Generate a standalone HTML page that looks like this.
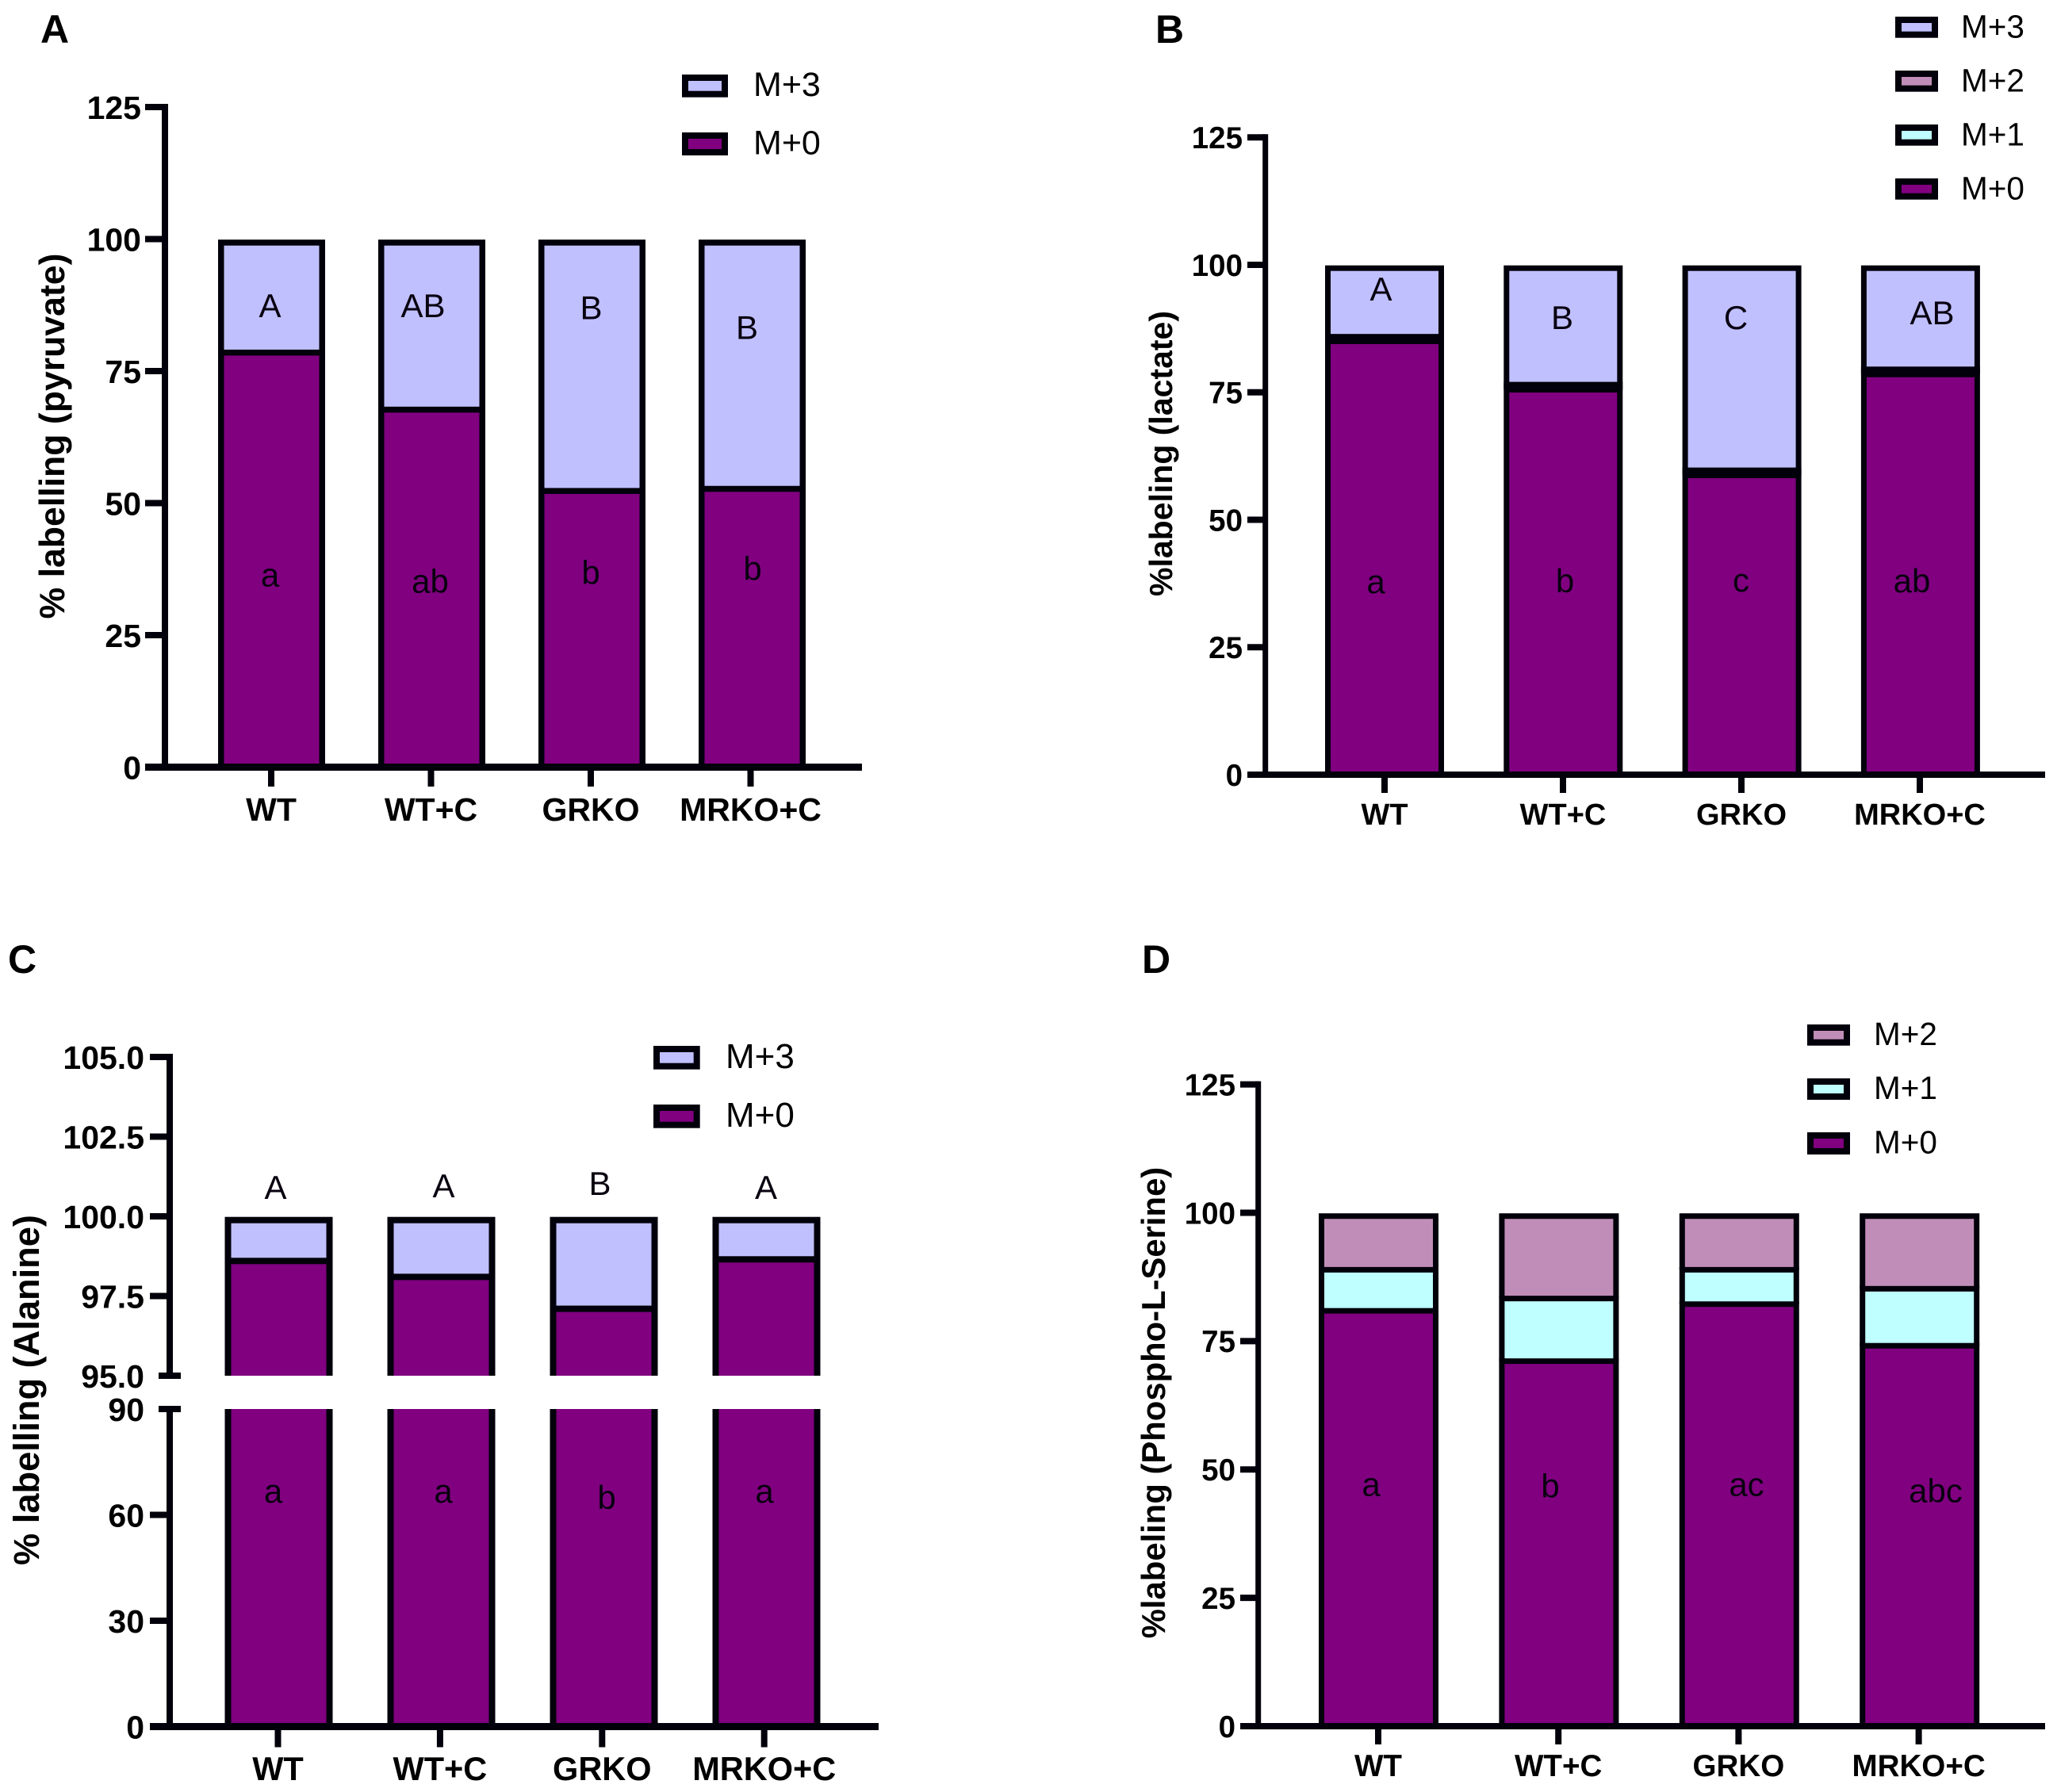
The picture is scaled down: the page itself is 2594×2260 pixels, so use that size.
<!DOCTYPE html>
<html lang="en">
<head>
<meta charset="utf-8">
<title>Isotope labelling stacked bar charts</title>
<style>
html,body{margin:0;padding:0;background:#fff}
svg{display:block}
text{font-family:"Liberation Sans",sans-serif;fill:#000}
.panel{font-weight:bold;font-size:50px}
.ytitle{font-weight:bold;text-anchor:middle}
.ann{text-anchor:middle;font-size:42px;fill:#08000f}
</style>
</head>
<body>
<svg id="figure" xmlns="http://www.w3.org/2000/svg" width="2594" height="2260" viewBox="0 0 2594 2260">
<rect width="2594" height="2260" fill="#fff"/>

<text class="panel" x="51" y="54">A</text>
<text class="panel" x="1457" y="54">B</text>
<text class="panel" x="10" y="1227">C</text>
<text class="panel" x="1440" y="1227">D</text>

<text class="ytitle" font-size="44.6" transform="translate(81,550) rotate(-90)">% labelling (pyruvate)</text>
<text class="ytitle" font-size="41" transform="translate(1478,572) rotate(-90)">%labeling (lactate)</text>
<text class="ytitle" font-size="45.2" transform="translate(49,1753) rotate(-90)">% labelling (Alanine)</text>
<text class="ytitle" font-size="41.8" transform="translate(1469,1769) rotate(-90)">%labeling (Phospho-L-Serine)</text>

<g id="marks"></g>

<g>
<rect x="864" y="98" width="50" height="20.7" fill="#C0C0FF" stroke="#02000a" stroke-width="8"/>
<text x="950" y="121" font-size="43">M+3</text>
<rect x="864" y="171" width="50" height="21" fill="#800080" stroke="#02000a" stroke-width="8"/>
<text x="950" y="194.5" font-size="43">M+0</text>
</g>

<g>
<rect x="2394" y="25" width="46" height="18.7" fill="#C0C0FF" stroke="#02000a" stroke-width="8"/>
<text x="2473" y="47.7" font-size="40.5">M+3</text>
<rect x="2394" y="93" width="46" height="18.7" fill="#C08DB8" stroke="#02000a" stroke-width="8"/>
<text x="2473" y="115.7" font-size="40.5">M+2</text>
<rect x="2394" y="161" width="46" height="18.7" fill="#BFFFFF" stroke="#02000a" stroke-width="8"/>
<text x="2473" y="183.7" font-size="40.5">M+1</text>
<rect x="2394" y="229" width="46" height="18.7" fill="#800080" stroke="#02000a" stroke-width="8"/>
<text x="2473" y="251.7" font-size="40.5">M+0</text>
</g>

<g>
<rect x="828" y="1323" width="50.7" height="21.7" fill="#C0C0FF" stroke="#02000a" stroke-width="8"/>
<text x="915" y="1347" font-size="44">M+3</text>
<rect x="828" y="1397" width="50.7" height="21.7" fill="#800080" stroke="#02000a" stroke-width="8"/>
<text x="915" y="1421" font-size="44">M+0</text>
</g>

<g>
<rect x="2283" y="1296" width="46" height="18.7" fill="#C08DB8" stroke="#02000a" stroke-width="8"/>
<text x="2363" y="1318" font-size="40.5">M+2</text>
<rect x="2283" y="1364" width="46" height="19" fill="#BFFFFF" stroke="#02000a" stroke-width="8"/>
<text x="2363" y="1386" font-size="40.5">M+1</text>
<rect x="2283" y="1432" width="46" height="20" fill="#800080" stroke="#02000a" stroke-width="8"/>
<text x="2363" y="1454.5" font-size="40.5">M+0</text>
</g>

<g id="annotations">
<text class="ann" x="340.5" y="400">A</text>
<text class="ann" x="533.5" y="400">AB</text>
<text class="ann" x="745.5" y="402.5">B</text>
<text class="ann" x="942" y="427.5">B</text>
<text class="ann" x="340.5" y="739.5">a</text>
<text class="ann" x="542.5" y="747.5">ab</text>
<text class="ann" x="745" y="736.5">b</text>
<text class="ann" x="949" y="731.5">b</text>

<text class="ann" x="1741.5" y="379">A</text>
<text class="ann" x="1970" y="415">B</text>
<text class="ann" x="2189" y="415">C</text>
<text class="ann" x="2436.5" y="409">AB</text>
<text class="ann" x="1735" y="748">a</text>
<text class="ann" x="1973.5" y="747">b</text>
<text class="ann" x="2195.5" y="746">c</text>
<text class="ann" x="2411" y="747">ab</text>

<text class="ann" x="347.5" y="1512">A</text>
<text class="ann" x="559.5" y="1510">A</text>
<text class="ann" x="756.5" y="1507">B</text>
<text class="ann" x="966" y="1512">A</text>
<text class="ann" x="344.5" y="1895">a</text>
<text class="ann" x="559" y="1895">a</text>
<text class="ann" x="765" y="1903">b</text>
<text class="ann" x="964" y="1895">a</text>

<text class="ann" x="1729" y="1886.5">a</text>
<text class="ann" x="1955" y="1888.5">b</text>
<text class="ann" x="2202.5" y="1886.5">ac</text>
<text class="ann" x="2441" y="1894.5">abc</text>
</g>
</svg>

<script>
const categories = ["WT", "WT+C", "GRKO", "MRKO+C"];

const pyruvateM0 = [78.5, 67.7, 52.3, 52.7];
const pyruvateM3 = [21.5, 32.3, 47.7, 47.3];

const lactateM0 = [85.0, 75.5, 58.7, 78.5];
const lactateM1 = [0.45, 0.5, 0.5, 0.5];
const lactateM2 = [0.45, 0.5, 0.5, 0.5];
const lactateM3 = [14.1, 23.5, 40.3, 20.5];

const alanineM0 = [98.6, 98.1, 97.1, 98.65];
const alanineM3 = [1.4, 1.9, 2.9, 1.35];

const serineM0 = [80.9, 71.1, 82.2, 74.1];
const serineM1 = [8.0, 12.2, 6.7, 11.1];
const serineM2 = [11.1, 16.7, 11.1, 14.8];

const ticksStandard = [0, 25, 50, 75, 100, 125];
const ticksAlanineLower = [0, 30, 60, 90];
const ticksAlanineUpper = [95, 97.5, 100, 102.5, 105];

const COLOR_M0 = "#800080";
const COLOR_M1 = "#BFFFFF";
const COLOR_M2 = "#C08DB8";
const COLOR_M3 = "#C0C0FF";
const INK = "#02000a";
const SVGNS = "http://www.w3.org/2000/svg";
const root = document.getElementById("marks");

function makeRect(parent, x, y, w, h, fill) {
  const r = document.createElementNS(SVGNS, "rect");
  r.setAttribute("x", x);
  r.setAttribute("y", y);
  r.setAttribute("width", w);
  r.setAttribute("height", Math.max(h, 0));
  r.setAttribute("fill", fill);
  parent.appendChild(r);
  return r;
}

function makeText(parent, x, y, str, size, anchor) {
  const t = document.createElementNS(SVGNS, "text");
  t.setAttribute("x", x);
  t.setAttribute("y", y);
  t.setAttribute("font-size", size);
  t.setAttribute("font-weight", "bold");
  t.setAttribute("text-anchor", anchor);
  t.textContent = str;
  parent.appendChild(t);
  return t;
}

function drawPanel(cfg) {
  const g = document.createElementNS(SVGNS, "g");
  
  
  root.appendChild(g);

  const sections = cfg.sections;
  const SW = cfg.barStroke;
  const yOf = (v, s) => s.y0 - (v - s.lo) * s.scale;

  // stacked bars
  categories.forEach((cat, i) => {
    const cx = cfg.barCenter(i);
    const x0 = cx - cfg.barWidth / 2;
    let base = 0;
    cfg.series.forEach((ser, sIdx) => {
      const top = base + ser.values[i];
      const isTop = sIdx === cfg.series.length - 1;
      sections.forEach(s => {
        const a = Math.max(base, s.lo);
        const b = Math.min(top, s.hi);
        if (b <= a) return;
        const topIsReal = b === top;
        const baseIsReal = a === base && base > 0;
        const yt = yOf(b, s);
        const yb = yOf(a, s);
        const outerTop = topIsReal ? (isTop ? yt + 0.7 : yt - SW / 2) : yt;
        const outer = makeRect(g, x0, outerTop, cfg.barWidth, yb - outerTop, INK);
        
        
        const innerTop = topIsReal ? (isTop ? yt + 0.7 + SW : yt + SW / 2) : yt;
        const innerBottom = baseIsReal ? yb - SW / 2 : yb;
        const fill = makeRect(g, x0 + SW, innerTop, cfg.barWidth - 2 * SW, innerBottom - innerTop, ser.color);
        
        
      });
      base = top;
    });
  });

  // y axis segments, ticks, labels
  sections.forEach(s => {
    const yLo = yOf(s.axisLo, s);
    const yHi = yOf(s.axisHi, s);
    const spine = makeRect(g, cfg.axisX - cfg.axisWidth / 2, yHi - 4, cfg.axisWidth, yLo - yHi + 8, INK);
    
    
    s.ticks.forEach(v => {
      const y = yOf(v, s);
      const isBreak = cfg.breakTicks && cfg.breakTicks.includes(v);
      const left = isBreak ? cfg.axisX - 14 : cfg.tickLeft;
      const right = isBreak ? cfg.axisX + 14 : cfg.axisX;
      const tk = makeRect(g, left, y - 4, right - left, 8, INK);
      
      
      const lab = makeText(g, cfg.labelRight, y + cfg.tickFont * 0.36, s.format(v), cfg.tickFont, "end");
      
      
    });
  });

  // x axis
  const y0 = yOf(0, sections[0]);
  const xAxis = makeRect(g, cfg.tickLeft, y0 - cfg.xAxisWidth / 2, cfg.axisRight - cfg.tickLeft, cfg.xAxisWidth, INK);
  
  
  categories.forEach((cat, i) => {
    const cx = cfg.tickCenter(i);
    const tk = makeRect(g, cx - 4, y0, 8, cfg.xTickLen, INK);
    
    
    const lab = makeText(g, cx, cfg.catBaseline, cat, cfg.catFont, "middle");
    
    
  });
}

const intFmt = v => String(v);
const oneDec = v => v.toFixed(1);

drawPanel({
  name: "chart-a-pyruvate",
  axisX: 208, axisWidth: 8, xAxisWidth: 9, barStroke: 7.5, xTickLen: 24.5,
  tickLeft: 183, labelRight: 178, axisRight: 1087,
  tickFont: 41, catFont: 41, catBaseline: 1035,
  barWidth: 135,
  barCenter: i => 342.5 + i * 202,
  tickCenter: i => 342 + i * 201.5,
  sections: [{lo: 0, hi: 125, axisLo: 0, axisHi: 125, y0: 967.5, scale: 6.66, ticks: ticksStandard, format: intFmt}],
  series: [
    {name: "M0", values: pyruvateM0, color: COLOR_M0},
    {name: "M3", values: pyruvateM3, color: COLOR_M3}
  ]
});

drawPanel({
  name: "chart-b-lactate",
  axisX: 1595.7, axisWidth: 7, xAxisWidth: 8, barStroke: 7, xTickLen: 23,
  tickLeft: 1573, labelRight: 1567, axisRight: 2579,
  tickFont: 38.5, catFont: 38, catBaseline: 1040,
  barWidth: 150,
  barCenter: i => 1746 + i * 225.3,
  tickCenter: i => 1746 + i * 225,
  sections: [{lo: 0, hi: 125, axisLo: 0, axisHi: 125, y0: 977, scale: 6.43, ticks: ticksStandard, format: intFmt}],
  series: [
    {name: "M0", values: lactateM0, color: COLOR_M0},
    {name: "M1", values: lactateM1, color: COLOR_M1},
    {name: "M2", values: lactateM2, color: COLOR_M2},
    {name: "M3", values: lactateM3, color: COLOR_M3}
  ]
});

drawPanel({
  name: "chart-c-alanine",
  axisX: 214, axisWidth: 8, xAxisWidth: 9, barStroke: 8, xTickLen: 26,
  tickLeft: 189, labelRight: 182, axisRight: 1108,
  tickFont: 41, catFont: 41.5, catBaseline: 2245,
  barWidth: 136,
  barCenter: i => 351.5 + i * 205,
  tickCenter: i => 350.5 + i * 204.4,
  breakTicks: [95, 90],
  sections: [
    {lo: 0, hi: 90, axisLo: 0, axisHi: 90, y0: 2177.5, scale: 4.45, ticks: ticksAlanineLower, format: intFmt},
    {lo: 95, hi: 105, axisLo: 95, axisHi: 105, y0: 1735, scale: 40.2, ticks: ticksAlanineUpper, format: oneDec}
  ],
  series: [
    {name: "M0", values: alanineM0, color: COLOR_M0},
    {name: "M3", values: alanineM3, color: COLOR_M3}
  ]
});

drawPanel({
  name: "chart-d-phospho-serine",
  axisX: 1586.7, axisWidth: 7, xAxisWidth: 8, barStroke: 7, xTickLen: 23,
  tickLeft: 1564, labelRight: 1558, axisRight: 2579,
  tickFont: 38.5, catFont: 38.6, catBaseline: 2240,
  barWidth: 151,
  barCenter: i => 1738.5 + i * 227.4,
  tickCenter: i => 1738 + i * 227.2,
  sections: [{lo: 0, hi: 125, axisLo: 0, axisHi: 125, y0: 2177, scale: 6.475, ticks: ticksStandard, format: intFmt}],
  series: [
    {name: "M0", values: serineM0, color: COLOR_M0},
    {name: "M1", values: serineM1, color: COLOR_M1},
    {name: "M2", values: serineM2, color: COLOR_M2}
  ]
});
</script>
</body>
</html>
